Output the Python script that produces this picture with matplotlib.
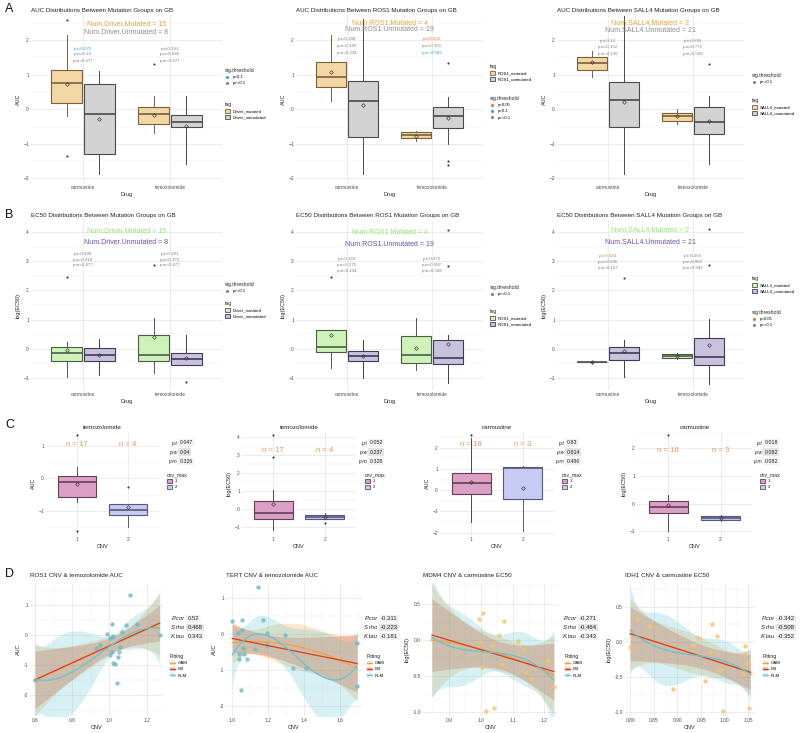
import numpy as np
import matplotlib.pyplot as plt
from matplotlib.lines import Line2D
from matplotlib.patches import Patch
from matplotlib.ticker import AutoMinorLocator, FormatStrFormatter

plt.rcParams['font.family'] = ['Liberation Sans', 'DejaVu Sans']

W, H = 800, 733

# ---------------- data ----------------
drugs = ['carmustine', 'temozolomide']
genes = ['Driver', 'ROS1', 'SALL4']
n_mutated = [15, 4, 2]
n_unmutated = [8, 19, 21]
p_names = ['p.t', 'p.w', 'p.m']

# each box: [whisker low, q1, median, q3, whisker high]
# order: carmustine mut, carmustine unmut, temozolomide mut, temozolomide unmut
auc_driver_box = [[-0.19, 0.19, 0.77, 1.13, 2.14], [-1.86, -1.28, -0.15, 0.74, 1.11],
                  [-0.70, -0.43, -0.13, 0.05, 0.37], [-1.57, -0.51, -0.36, -0.16, 0.37]]
auc_driver_mean = [0.72, -0.27, -0.17, -0.49]
auc_driver_out = [[2.59, -1.35], [], [1.30], []]
auc_driver_p = [[0.075, 0.14, 0.477], [0.291, 0.645, 0.477]]

auc_ros1_box = [[0.25, 0.63, 0.94, 1.36, 2.13], [-1.87, -0.81, 0.25, 0.81, 2.6],
                [-0.92, -0.83, -0.73, -0.65, -0.62], [-0.99, -0.54, -0.20, 0.07, 0.35]]
auc_ros1_mean = [1.07, 0.13, -0.76, -0.25]
auc_ros1_out = [[], [], [], [1.32, -1.50, -1.60]]
auc_ros1_p = [[0.188, 0.149, 0.234], [0.031, 0.101, 0.083]]

auc_sall4_box = [[0.93, 1.12, 1.32, 1.51, 1.68], [-1.87, -0.52, 0.27, 0.78, 2.7],
                 [-0.42, -0.33, -0.21, -0.10, 0.01], [-1.58, -0.72, -0.36, 0.05, 0.37]]
auc_sall4_mean = [1.35, 0.20, -0.21, -0.34]
auc_sall4_out = [[], [], [], [1.31]]
auc_sall4_p = [[0.13, 0.152, 0.136], [0.695, 0.771, 0.568]]

ec50_driver_box = [[-0.98, -0.43, -0.15, 0.07, 0.23], [-0.91, -0.43, -0.22, 0.02, 0.33],
                   [-0.83, -0.43, -0.22, 0.46, 1.05], [-0.57, -0.55, -0.35, -0.13, 0.46]]
ec50_driver_mean = [-0.03, -0.22, 0.40, -0.32]
ec50_driver_out = [[2.45], [], [2.88], [-1.15]]
ec50_driver_p = [[0.398, 0.918, 0.477], [0.181, 0.375, 0.477]]

ec50_ros1_box = [[-0.65, -0.12, 0.06, 0.66, 0.66], [-0.99, -0.42, -0.24, -0.06, 0.29],
                 [-0.72, -0.49, -0.22, 0.45, 1.05], [-1.16, -0.53, -0.31, 0.29, 0.46]]
ec50_ros1_mean = [0.49, -0.26, 0.03, 0.15]
ec50_ros1_out = [[2.45], [], [], [4.07, 2.84]]
ec50_ros1_p = [[0.369, 0.275, 0.234], [0.875, 0.987, 0.568]]

ec50_sall4_box = [[-0.47, -0.465, -0.46, -0.455, -0.45], [-0.97, -0.38, -0.15, 0.06, 0.31],
                  [-0.34, -0.31, -0.24, -0.17, -0.15], [-1.20, -0.57, -0.29, 0.38, 1.03]]
ec50_sall4_mean = [-0.46, -0.09, -0.24, 0.14]
ec50_sall4_out = [[], [2.44], [], [4.10, 2.87]]
ec50_sall4_p = [[0.041, 0.236, 0.167], [0.255, 0.862, 0.945]]

# panel C: CNV groups 1 and 2
cnv_levels = ['1', '2']
c_titles = ['temozolomide', 'temozolomide', 'carmustine', 'carmustine']
c_ylabels = ['AUC', 'log(EC50)', 'AUC', 'log(EC50)']

c1_box = [[-0.71, -0.57, -0.12, 0.07, 0.36], [-1.50, -1.12, -0.97, -0.79, -0.79]]
c1_mean = [-0.17, -0.86]
c1_out = [[1.33, -1.60], [-0.27]]
c1_n = [17, 4]
c1_p = [0.047, 0.04, 0.326]

c2_box = [[-1.15, -0.54, -0.22, 0.46, 1.06], [-0.56, -0.54, -0.44, -0.35, -0.22]]
c2_mean = [0.28, -0.46]
c2_out = [[4.08, 2.87], [-0.75]]
c2_n = [17, 4]
c2_p = [0.052, 0.237, 0.328]

c3_box = [[-1.49, -0.20, 0.34, 0.80, 2.45], [-1.91, -0.43, 1.05, 1.10, 1.15]]
c3_mean = [0.37, 0.10]
c3_out = [[2.60], []]
c3_n = [18, 3]
c3_p = [0.83, 0.814, 0.486]

c4_box = [[-1.00, -0.34, -0.12, 0.08, 0.30], [-0.62, -0.60, -0.53, -0.47, -0.43]]
c4_mean = [-0.06, -0.53]
c4_out = [[2.48], []]
c4_n = [18, 3]
c4_p = [0.018, 0.082, 0.082]

# panel D: CNV vs drug response
d_titles = ['ROS1 CNV & temozolomide AUC', 'TERT CNV & temozolomide AUC',
            'MDM4 CNV & carmustine EC50', 'IDH1 CNV & carmustine EC50']
stat_names = ['P.cor', 'S.rho', 'K.tau']

d1_x = [0.6, 0.928, 0.95, 0.985, 1.003, 1.012, 1.02, 1.012, 1.003, 1.016, 1.018,
        1.03, 1.04, 1.048, 1.053, 1.057, 1.07, 1.089, 1.11, 1.15, 1.27]
d1_y = [-1.5, -0.42, -0.33, 0.02, -0.11, -0.06, -0.03, 0.36, -0.67, -0.56, -0.94,
        -0.98, -1.59, -0.72, -0.56, -0.39, 0.09, 0.33, 1.33, 0.36, 0.0]
d1_stats = [0.52, 0.468, 0.343]

d2_x = [1.0, 1.033, 1.039, 1.039, 1.046, 1.056, 1.056, 1.061, 1.067, 1.08, 1.126,
        1.144, 1.172, 1.191, 1.191, 1.293, 1.339, 1.407, 1.694, 1.694]
d2_y = [0.37, 0.03, -0.55, -0.69, -1.55, 0.38, 0.12, -0.39, -0.56, -0.69, -0.41,
        1.32, 0.38, 0.03, -0.31, -0.02, -0.93, -0.94, -0.25, -1.45]
d2_stats = [-0.311, -0.223, -0.181]

d3_x = [0.845, 0.995, 1.005, 0.997, 1.002, 1.016, 1.042, 1.034, 1.057, 1.065, 1.074,
        1.118, 1.137, 1.142, 1.157, 1.207, 1.23]
d3_y = [0.02, 0.29, 0.375, -0.02, -0.37, -0.98, -0.94, -0.06, 0.08, -0.33, 0.27,
        -0.01, -0.125, -0.435, -0.54, -0.27, -0.65]
d3_stats = [-0.271, -0.464, -0.343]

d4_x = [0.8, 0.815, 0.842, 0.89, 0.944, 0.932, 0.958, 0.973, 0.969, 0.983, 0.989,
        0.996, 1.042, 1.043, 1.046, 1.039, 1.052, 1.054]
d4_y = [-0.08, 0.33, 0.23, -0.67, 0.05, -0.05, -0.56, 0.25, -0.15, 0.08, -0.4,
        -0.99, -0.06, -0.17, -0.3, -0.45, -0.95, -0.45]
d4_stats = [-0.342, -0.508, -0.352]

fit_names = ['GAM', 'LM', 'RLM']
fit_degrees = [2, 1, 3]

# ---------------- style ----------------
sig_order = ['p<0.05', 'p<0.1', 'p>=0.1']
sig_colors = {'p<0.05': '#E8743B', 'p<0.1': '#3BA3D9', 'p>=0.1': '#808080'}
fit_colors = {'GAM': '#F2A33A', 'LM': '#DC3B1F', 'RLM': '#62C6D2'}

fig = plt.figure(figsize=(8, 7.33), dpi=100)


def px_ax(x0, y0, x1, y1):
    return fig.add_axes([x0 / W, 1 - y1 / H, (x1 - x0) / W, (y1 - y0) / H])


def theme(ax, xminor=False):
    for s in ax.spines.values():
        s.set_visible(False)
    ax.tick_params(length=0, pad=1.5, labelsize=3.5, labelcolor='#4D4D4D')
    ax.tick_params(which='minor', length=0)
    ax.yaxis.set_minor_locator(AutoMinorLocator(2))
    if xminor:
        ax.xaxis.set_minor_locator(AutoMinorLocator(2))
    ax.grid(True, which='major', color='#E2E2E2', lw=0.45)
    ax.grid(True, which='minor', color='#F0F0F0', lw=0.3)
    ax.set_axisbelow(True)


def sig_level(p):
    if p < 0.05:
        return 'p<0.05'
    if p < 0.1:
        return 'p<0.1'
    return 'p>=0.1'


def legend_block(x, y, handles, labels, title):
    leg = fig.legend(handles, labels, title=title, loc='upper left',
                     bbox_to_anchor=(x / W, 1 - y / H), frameon=False,
                     fontsize=3.1, title_fontsize=3.7, alignment='left',
                     borderpad=0, borderaxespad=0, handlelength=1.1,
                     handleheight=0.9, handletextpad=0.6, labelspacing=0.45)
    leg.get_title().set_color('#222222')


def table(x, y, labels, values, fs, dy):
    for r, (lab, val) in enumerate(zip(labels, values)):
        yy = 1 - (y + r * dy) / H
        fig.text(x / W, yy, lab, ha='right', va='center', fontsize=fs,
                 style='italic', color='#222222')
        fig.text((x + 2.5) / W, yy, f'{val:g}', ha='left', va='center', fontsize=fs,
                 color='#222222',
                 bbox=dict(boxstyle='square,pad=0.25', fc='#E4E4E4' if r == 1 else '#F2F2F2',
                           ec='none'))


def draw_boxes(ax, stats, pos, width, fill, edge):
    ax.bxp(stats, positions=pos, widths=width, patch_artist=True, showmeans=True,
           showcaps=False, manage_ticks=False,
           boxprops=dict(facecolor=fill, edgecolor=edge, linewidth=0.8),
           medianprops=dict(color=edge, linewidth=1.2),
           whiskerprops=dict(color=edge, linewidth=0.7),
           flierprops=dict(marker='o', markersize=1.5, markerfacecolor='#333333',
                           markeredgecolor='none'),
           meanprops=dict(marker='D', markersize=1.9, markerfacecolor='none',
                          markeredgecolor='#333333', markeredgewidth=0.45))


def bstat(b, m, o):
    return dict(whislo=b[0], q1=b[1], med=b[2], q3=b[3], whishi=b[4], mean=m, fliers=o)


def group_panel(xs, ys, boxes, means, outs, pvals, g, ylim, yticks, ylabel, fills, edges,
                hdr_colors, title, hdr_y, p_y, leg_x, sig_y, tag_y):
    ax = px_ax(xs[0], ys[0], xs[1], ys[1])
    pos = np.arange(1, len(drugs) + 1)
    for k, off in enumerate((-0.1875, 0.1875)):
        st = [bstat(boxes[i], means[i], outs[i]) for i in (k, k + 2)]
        draw_boxes(ax, st, pos + off, 0.36, fills[k], edges[k])
    ax.set_xlim(0.4, 2.6)
    ax.set_ylim(*ylim)
    ax.set_xticks(pos, drugs)
    ax.set_yticks(yticks)
    theme(ax)
    ax.set_xlabel('Drug', fontsize=4, labelpad=1.5, color='#222222')
    ax.set_ylabel(ylabel, fontsize=4, labelpad=2, color='#222222')
    ax.set_title(title, loc='left', fontsize=4.5, pad=2.5, color='#222222')
    ax.text(0.5, hdr_y[0], f'Num.{genes[g]}.Mutated = {n_mutated[g]}', transform=ax.transAxes,
            ha='center', va='center', fontsize=5, color=hdr_colors[0])
    ax.text(0.5, hdr_y[1], f'Num.{genes[g]}.Unmutated = {n_unmutated[g]}',
            transform=ax.transAxes, ha='center', va='center', fontsize=5,
            color=hdr_colors[1])
    tr = ax.get_xaxis_transform()
    for j, grp in enumerate(pvals):
        for r, (nm, v) in enumerate(zip(p_names, grp)):
            ax.text(pos[j], p_y[r], f'{nm}={v:g}', transform=tr, ha='center', va='center',
                    fontsize=3.2, color=sig_colors[sig_level(v)])
    levels = [l for l in sig_order if any(sig_level(v) == l for grp in pvals for v in grp)]
    sig_h = [Line2D([], [], ls='', marker='o', ms=1.2, color=sig_colors[l]) for l in levels]
    tag_h = [Patch(facecolor=fills[k], edgecolor=edges[k], lw=0.6) for k in range(2)]
    legend_block(leg_x, sig_y, sig_h, levels, 'sig.threshold')
    legend_block(leg_x, tag_y, tag_h, [f'{genes[g]}_mutated', f'{genes[g]}_unmutated'], 'tag')


auc_fills = ['#F3D8A6', '#D3D3D3']
auc_edges = ['#7A6038', '#4A4A4A']
auc_hdr = ['#E8A33D', '#8C8C8C']
ec_fills = ['#CDF3B8', '#C9C2DF']
ec_edges = ['#4E5A48', '#3F3A55']
ec_hdr = ['#8EE86A', '#6A4FA8']

auc_ylim = (-2.13, 2.72)
ec_ylim = (-1.41, 4.41)
auc_ticks = [-2, -1, 0, 1, 2]
ec_ticks = [-1, 0, 1, 2, 3, 4]

group_panel((31, 222), (15, 183), auc_driver_box, auc_driver_mean, auc_driver_out, auc_driver_p,
            0, auc_ylim, auc_ticks, 'AUC', auc_fills, auc_edges, auc_hdr,
            'AUC Distributions Between Mutation Groups on GB', (0.946, 0.893),
            (0.80, 0.765, 0.725), 225, 68, 102)
group_panel((296, 483), (15, 183), auc_ros1_box, auc_ros1_mean, auc_ros1_out, auc_ros1_p,
            1, auc_ylim, auc_ticks, 'AUC', auc_fills, auc_edges, auc_hdr,
            'AUC Distributions Between ROS1 Mutation Groups on GB', (0.952, 0.912),
            (0.857, 0.815, 0.774), 490, 96, 64)
group_panel((557, 744), (15, 183), auc_sall4_box, auc_sall4_mean, auc_sall4_out, auc_sall4_p,
            2, auc_ylim, auc_ticks, 'AUC', auc_fills, auc_edges, auc_hdr,
            'AUC Distributions Between SALL4 Mutation Groups on GB', (0.952, 0.91),
            (0.845, 0.81, 0.768), 752, 73, 98)

group_panel((31, 222), (220, 390), ec50_driver_box, ec50_driver_mean, ec50_driver_out,
            ec50_driver_p, 0, ec_ylim, ec_ticks, 'log(EC50)', ec_fills, ec_edges, ec_hdr,
            'EC50 Distributions Between Mutation Groups on GB', (0.93, 0.87),
            (0.80, 0.767, 0.733), 225, 282, 301)
group_panel((296, 483), (220, 390), ec50_ros1_box, ec50_ros1_mean, ec50_ros1_out,
            ec50_ros1_p, 1, ec_ylim, ec_ticks, 'log(EC50)', ec_fills, ec_edges, ec_hdr,
            'EC50 Distributions Between ROS1 Mutation Groups on GB', (0.925, 0.857),
            (0.77, 0.735, 0.70), 490, 285, 309)
group_panel((557, 744), (220, 390), ec50_sall4_box, ec50_sall4_mean, ec50_sall4_out,
            ec50_sall4_p, 2, ec_ylim, ec_ticks, 'log(EC50)', ec_fills, ec_edges, ec_hdr,
            'EC50 Distributions Between SALL4 Mutation Groups on GB', (0.94, 0.87),
            (0.79, 0.755, 0.72), 752, 310, 276)

# ---------------- panel C ----------------
cnv_fills = ['#DCA0C6', '#C7CAF2']
cnv_edges = ['#5E3F56', '#56587A']


def cnv_panel(xs, boxes, means, outs, ns, pvals, ylim, yticks, ylabel, title, n_y, tab_x, leg_x):
    ax = px_ax(xs[0], 432, xs[1], 535)
    pos = np.arange(1, len(cnv_levels) + 1)
    for k in range(len(cnv_levels)):
        draw_boxes(ax, [bstat(boxes[k], means[k], outs[k])], [pos[k]], 0.75,
                   cnv_fills[k], cnv_edges[k])
    ax.set_xlim(0.4, 2.6)
    ax.set_ylim(*ylim)
    ax.set_xticks(pos, cnv_levels)
    ax.set_yticks(yticks)
    theme(ax)
    ax.set_xlabel('CNV', fontsize=4, labelpad=1.5, color='#222222')
    ax.set_ylabel(ylabel, fontsize=4, labelpad=2, color='#222222')
    ax.set_title(title, fontsize=4.5, pad=2.5, color='#222222')
    tr = ax.get_xaxis_transform()
    for k in range(len(ns)):
        ax.text(pos[k], n_y, f'n = {ns[k]}', transform=tr, ha='center', va='center',
                fontsize=5.6, color='#E8955A')
    table(tab_x, 443, p_names, pvals, 3.8, 9.3)
    hs = [Patch(facecolor=cnv_fills[k], edgecolor=cnv_edges[k], lw=0.6) for k in range(2)]
    legend_block(leg_x, 472, hs, cnv_levels, 'cnv_max')


cnv_panel((46, 159), c1_box, c1_mean, c1_out, c1_n, c1_p, (-1.73, 1.42), [-1, 0, 1],
          c_ylabels[0], c_titles[0], 0.874, 177, 167)
cnv_panel((242, 356), c2_box, c2_mean, c2_out, c2_n, c2_p, (-1.43, 4.26), [-1, 0, 1, 2, 3, 4],
          c_ylabels[1], c_titles[1], 0.825, 367, 365)
cnv_panel((440, 554), c3_box, c3_mean, c3_out, c3_n, c3_p, (-2.11, 2.74), [-2, -1, 0, 1, 2],
          c_ylabels[2], c_titles[2], 0.874, 564, 562)
cnv_panel((637, 752), c4_box, c4_mean, c4_out, c4_n, c4_p, (-1.14, 2.59), [-1, 0, 1, 2],
          c_ylabels[3], c_titles[3], 0.825, 762, 760)

# ---------------- panel D ----------------


def poly_band(x, y, deg, grid):
    xm = x.mean()
    X = np.vander(x - xm, deg + 1)
    beta, *_ = np.linalg.lstsq(X, y, rcond=None)
    resid = y - X @ beta
    s2 = resid @ resid / (len(x) - deg - 1)
    cov = s2 * np.linalg.inv(X.T @ X)
    G = np.vander(grid - xm, deg + 1)
    fit = G @ beta
    se = np.sqrt(np.einsum('ij,jk,ik->i', G, cov, G))
    return fit, fit - 2 * se, fit + 2 * se


def fit_panel(xs, x, y, xlim, ylim, xticks, yticks, fmt, ylabel, title, pt_color, stats,
              tab_x, leg_x):
    ax = px_ax(xs[0], 583, xs[1], 716)
    x = np.asarray(x, float)
    y = np.asarray(y, float)
    grid = np.linspace(x.min(), x.max(), 120)
    fits = {}
    for name, deg in zip(fit_names, fit_degrees):
        fit, lo, hi = poly_band(x, y, deg, grid)
        fits[name] = fit
        ax.fill_between(grid, lo, hi, color=fit_colors[name], alpha=0.26, lw=0)
    ax.scatter(x, y, s=10, color=pt_color, alpha=0.8, lw=0, zorder=3)
    for name in fit_names:
        ax.plot(grid, fits[name], color=fit_colors[name], lw=0.9, zorder=4)
    ax.set_xlim(*xlim)
    ax.set_ylim(*ylim)
    ax.set_xticks(xticks)
    ax.set_yticks(yticks)
    ax.xaxis.set_major_formatter(FormatStrFormatter(fmt[0]))
    ax.yaxis.set_major_formatter(FormatStrFormatter(fmt[1]))
    theme(ax, xminor=True)
    ax.set_xlabel('CNV', fontsize=4, labelpad=1.5, color='#222222')
    ax.set_ylabel(ylabel, fontsize=4, labelpad=2, color='#222222')
    ax.set_title(title, loc='left', fontsize=4.5, pad=4.5, color='#222222')
    table(tab_x, 618.5, stat_names, stats, 4.3, 9)
    hs = [(Patch(facecolor=fit_colors[n], alpha=0.3, lw=0),
           Line2D([], [], color=fit_colors[n], lw=0.9)) for n in fit_names]
    legend_block(leg_x, 654, hs, fit_names, 'Fitting')


fit_panel((30, 163), d1_x, d1_y, (0.573, 1.288), (-2.7, 1.73), [0.6, 0.8, 1.0, 1.2],
          [-2, -1, 0, 1], ('%.1f', '%g'), 'AUC', d_titles[0], '#6FB8C9', d1_stats, 185, 170)
fit_panel((226, 362), d2_x, d2_y, (0.965, 1.721), (-2.27, 1.42), [1.0, 1.2, 1.4, 1.6],
          [-2, -1, 0, 1], ('%.1f', '%g'), 'AUC', d_titles[1], '#6FB8C9', d2_stats, 378, 367)
fit_panel((423, 558), d3_x, d3_y, (0.817, 1.243), (-1.05, 0.796), [0.9, 1.0, 1.1, 1.2],
          [-1, -0.5, 0, 0.5], ('%.1f', '%.1f'), 'log(EC50)', d_titles[2], '#F5C46A',
          d3_stats, 577, 565)
fit_panel((625, 755), d4_x, d4_y, (0.789, 1.064), (-1.06, 0.84),
          [0.8, 0.85, 0.9, 0.95, 1.0, 1.05], [-1, -0.5, 0, 0.5], ('%.2f', '%.1f'),
          'log(EC50)', d_titles[3], '#F5C46A', d4_stats, 775, 763)

# panel letters
for letter, yy in zip('ABCD', (9, 215, 425, 574)):
    fig.text(5 / W, 1 - yy / H, letter, fontsize=9, va='center', ha='left', color='#111111')

fig.savefig('out.png', dpi=100)
